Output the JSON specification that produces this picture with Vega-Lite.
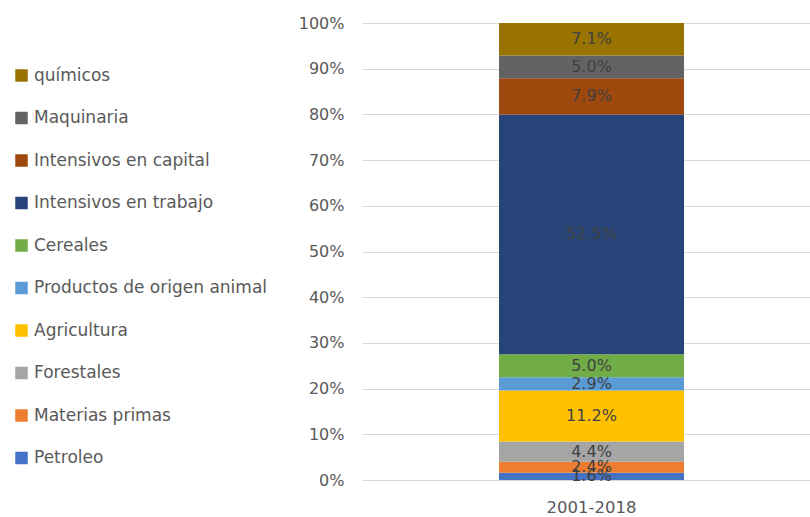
{
  "$schema": "https://vega.github.io/schema/vega-lite/v6.json",
  "width": 448,
  "height": 457,
  "autosize": {"type": "none"},
  "padding": {"left": 362, "top": 23, "right": 0, "bottom": 37},
  "background": "white",
  "config": {
    "view": {"stroke": null},
    "font": "DejaVu Sans"
  },
  "data": {
    "values": [
      {"periodo": "2001-2018", "cat": "Petroleo", "orden": 1, "valor": 0.016},
      {"periodo": "2001-2018", "cat": "Materias primas", "orden": 2, "valor": 0.024},
      {"periodo": "2001-2018", "cat": "Forestales", "orden": 3, "valor": 0.044},
      {"periodo": "2001-2018", "cat": "Agricultura", "orden": 4, "valor": 0.112},
      {"periodo": "2001-2018", "cat": "Productos de origen animal", "orden": 5, "valor": 0.029},
      {"periodo": "2001-2018", "cat": "Cereales", "orden": 6, "valor": 0.050},
      {"periodo": "2001-2018", "cat": "Intensivos en  trabajo", "orden": 7, "valor": 0.525},
      {"periodo": "2001-2018", "cat": "Intensivos en capital", "orden": 8, "valor": 0.079},
      {"periodo": "2001-2018", "cat": "Maquinaria", "orden": 9, "valor": 0.050},
      {"periodo": "2001-2018", "cat": "químicos", "orden": 10, "valor": 0.071}
    ]
  },
  "transform": [
    {"stack": "valor", "groupby": ["periodo"], "sort": [{"field": "orden", "order": "ascending"}], "as": ["v0", "v1"]},
    {"calculate": "(datum.v0 + datum.v1) / 2", "as": "mid"}
  ],
  "encoding": {
    "x": {
      "field": "periodo",
      "type": "nominal",
      "title": null,
      "scale": {"paddingInner": 0, "paddingOuter": 0.7108, "align": 0.521},
      "axis": {
        "labelAngle": 0,
        "labelFontSize": 16.5,
        "labelColor": "#595959",
        "labelPadding": 19,
        "ticks": false,
        "domain": false
      }
    }
  },
  "layer": [
    {
      "mark": {"type": "bar"},
      "encoding": {
        "y": {
          "field": "v0",
          "type": "quantitative",
          "title": null,
          "scale": {"domain": [0, 1]},
          "axis": {
            "format": "%",
            "values": [0, 0.1, 0.2, 0.3, 0.4, 0.5, 0.6, 0.7, 0.8, 0.9, 1],
            "labelFontSize": 16,
            "labelColor": "#595959",
            "labelPadding": 18,
            "ticks": false,
            "domain": false,
            "gridColor": "#d9d9d9",
            "gridWidth": 1
          }
        },
        "y2": {"field": "v1"},
        "color": {
          "field": "cat",
          "type": "nominal",
          "title": null,
          "scale": {
            "domain": ["químicos", "Maquinaria", "Intensivos en capital", "Intensivos en  trabajo", "Cereales", "Productos de origen animal", "Agricultura", "Forestales", "Materias primas", "Petroleo"],
            "range": ["#997300", "#636363", "#9E480E", "#264478", "#70AD47", "#5B9BD5", "#FFC000", "#A5A5A5", "#ED7D31", "#4472C4"]
          },
          "legend": {
            "orient": "none",
            "legendX": -349,
            "legendY": 44,
            "padding": 0,
            "symbolType": "square",
            "symbolSize": 156,
            "symbolStrokeWidth": 0,
            "symbolOpacity": 1,
            "labelFontSize": 17,
            "labelColor": "#595959",
            "labelOffset": 4,
            "rowPadding": 24.5,
            "labelLimit": 400
          }
        }
      }
    },
    {
      "mark": {"type": "text", "fontSize": 16, "color": "#404040", "baseline": "middle", "align": "center"},
      "encoding": {
        "y": {"field": "mid", "type": "quantitative", "scale": {"domain": [0, 1]}},
        "text": {"field": "valor", "type": "quantitative", "format": ".1%"},
        "fontWeight": {"condition": {"test": "datum.cat === 'Agricultura'", "value": "bold"}, "value": "normal"}
      }
    }
  ]
}
